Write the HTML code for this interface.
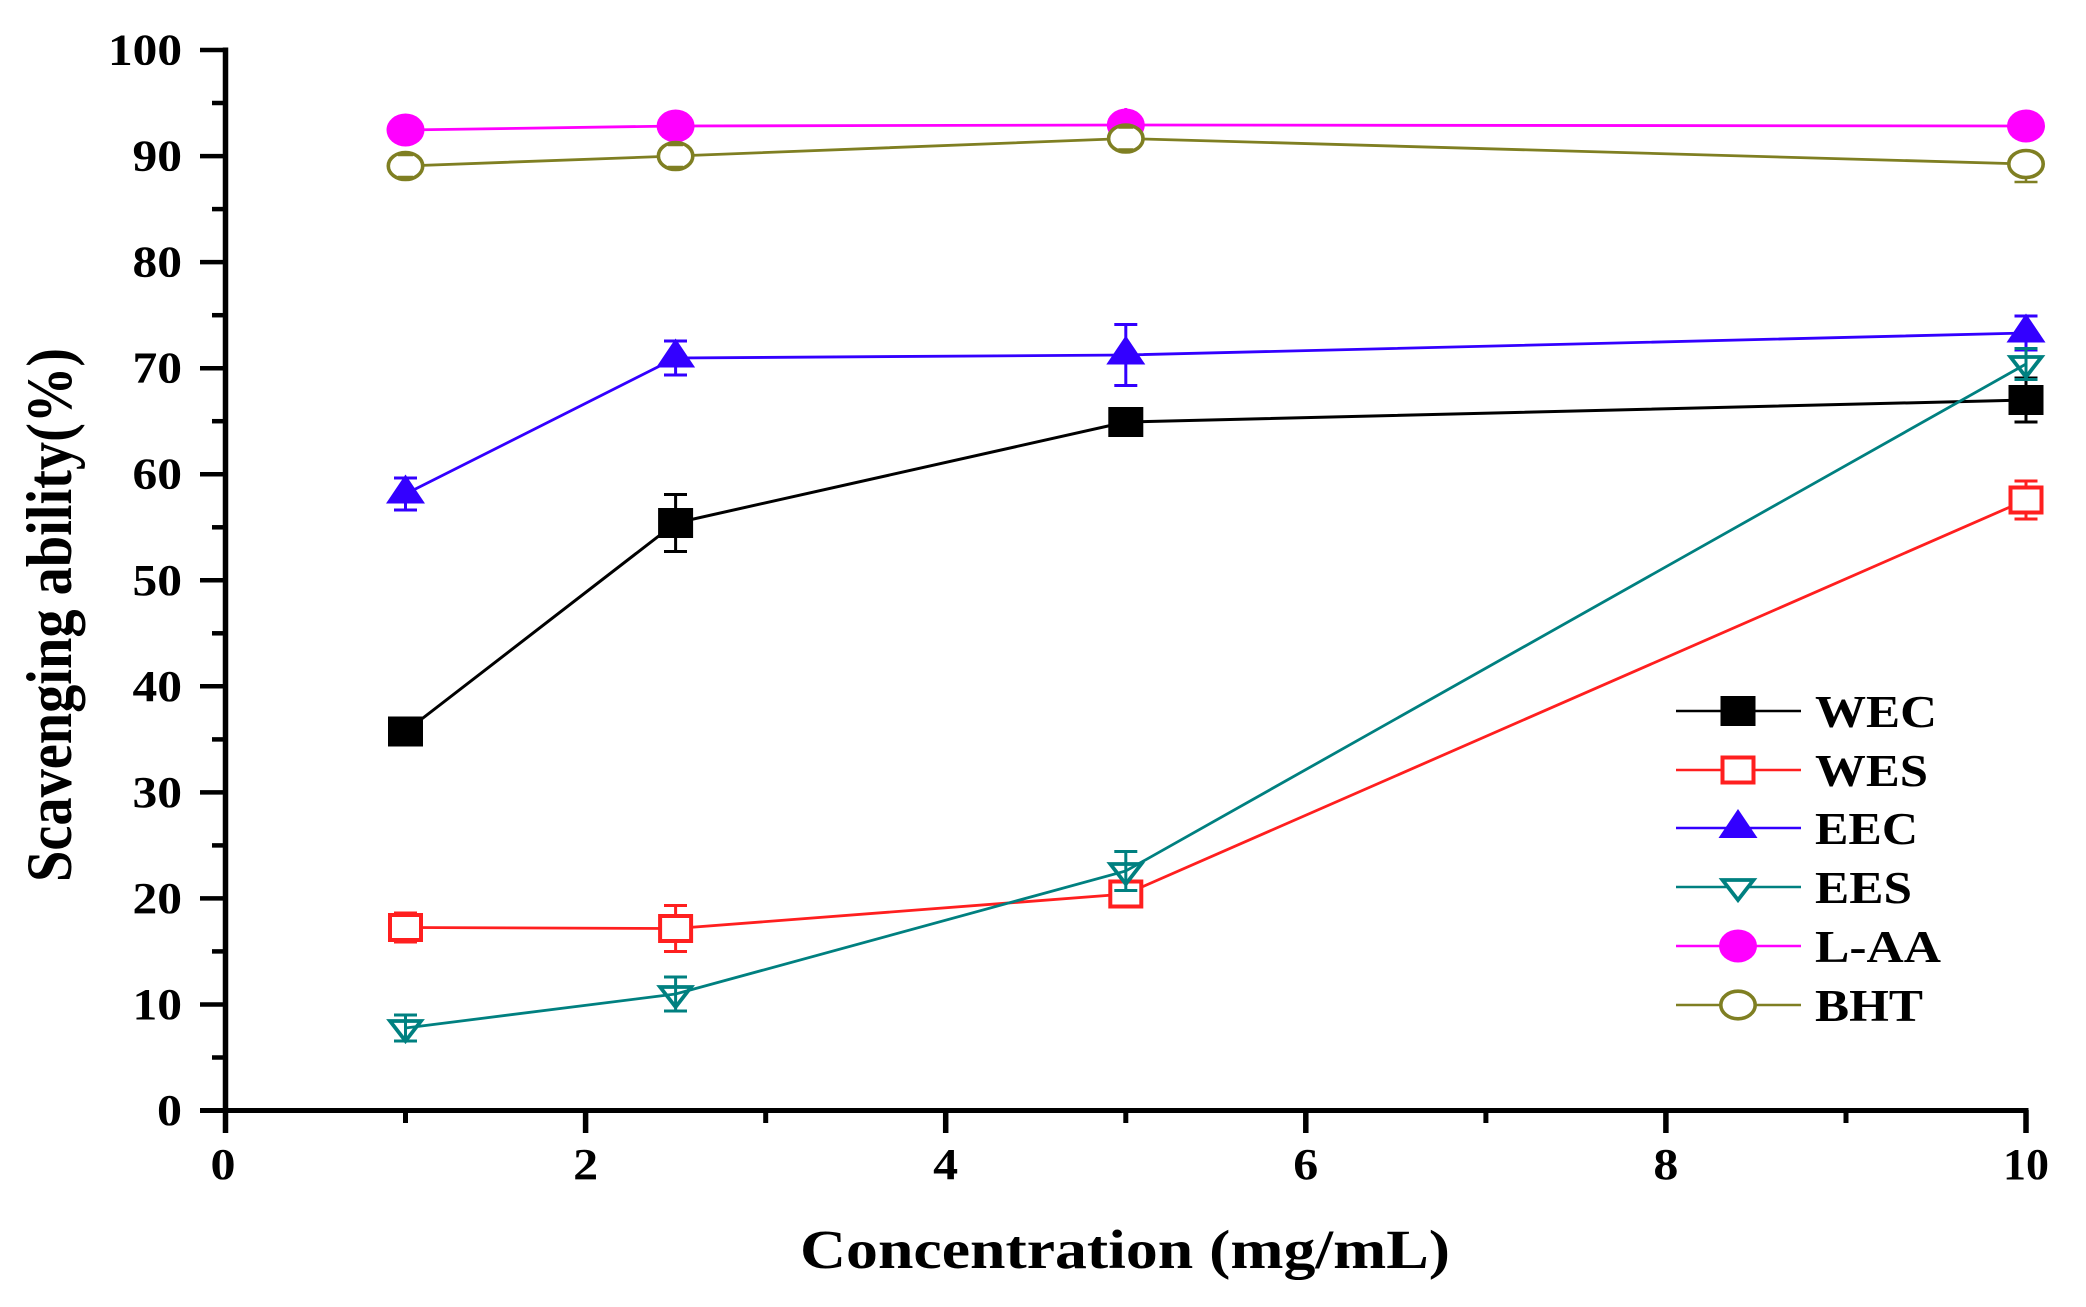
<!DOCTYPE html>
<html>
<head>
<meta charset="utf-8">
<style>
  html, body { margin: 0; padding: 0; background: #ffffff; }
  body { width: 2086px; height: 1307px; overflow: hidden; }
  svg { display: block; }
  text { font-family: "Liberation Serif", "Times New Roman", serif; font-weight: bold; fill: #000; }
</style>
</head>
<body>
<svg width="2086" height="1307" viewBox="0 0 2086 1307" xmlns="http://www.w3.org/2000/svg">
  <rect x="0" y="0" width="2086" height="1307" fill="#ffffff"/>

  <!-- Axes -->
  <line x1="225.5" y1="47.5" x2="225.5" y2="1133" stroke="#000" stroke-width="5.5"/>
  <line x1="200" y1="1110.5" x2="2028.5" y2="1110.5" stroke="#000" stroke-width="5"/>

  <!-- Y major ticks -->
  <g stroke="#000" stroke-width="4.5">
    <line x1="200" y1="50" x2="226" y2="50"/>
    <line x1="200" y1="156.1" x2="226" y2="156.1"/>
    <line x1="200" y1="262.1" x2="226" y2="262.1"/>
    <line x1="200" y1="368.2" x2="226" y2="368.2"/>
    <line x1="200" y1="474.2" x2="226" y2="474.2"/>
    <line x1="200" y1="580.3" x2="226" y2="580.3"/>
    <line x1="200" y1="686.3" x2="226" y2="686.3"/>
    <line x1="200" y1="792.4" x2="226" y2="792.4"/>
    <line x1="200" y1="898.4" x2="226" y2="898.4"/>
    <line x1="200" y1="1004.5" x2="226" y2="1004.5"/>
  </g>
  <!-- Y minor ticks -->
  <g stroke="#000" stroke-width="4.5">
    <line x1="212" y1="103.0" x2="226" y2="103.0"/>
    <line x1="212" y1="209.1" x2="226" y2="209.1"/>
    <line x1="212" y1="315.2" x2="226" y2="315.2"/>
    <line x1="212" y1="421.2" x2="226" y2="421.2"/>
    <line x1="212" y1="527.3" x2="226" y2="527.3"/>
    <line x1="212" y1="633.3" x2="226" y2="633.3"/>
    <line x1="212" y1="739.4" x2="226" y2="739.4"/>
    <line x1="212" y1="845.4" x2="226" y2="845.4"/>
    <line x1="212" y1="951.4" x2="226" y2="951.4"/>
    <line x1="212" y1="1057.5" x2="226" y2="1057.5"/>
  </g>

  <!-- X major ticks -->
  <g stroke="#000" stroke-width="5.5">
    <line x1="585.6" y1="1110" x2="585.6" y2="1133"/>
    <line x1="945.7" y1="1110" x2="945.7" y2="1133"/>
    <line x1="1305.8" y1="1110" x2="1305.8" y2="1133"/>
    <line x1="1665.9" y1="1110" x2="1665.9" y2="1133"/>
    <line x1="2026" y1="1110" x2="2026" y2="1133"/>
  </g>
  <!-- X minor ticks -->
  <g stroke="#000" stroke-width="5">
    <line x1="405.5" y1="1110" x2="405.5" y2="1123"/>
    <line x1="765.7" y1="1110" x2="765.7" y2="1123"/>
    <line x1="1125.8" y1="1110" x2="1125.8" y2="1123"/>
    <line x1="1485.9" y1="1110" x2="1485.9" y2="1123"/>
    <line x1="1846" y1="1110" x2="1846" y2="1123"/>
  </g>

  <!-- Y tick labels -->
  <g font-size="44">
    <text x="108" y="64.5" textLength="74" lengthAdjust="spacingAndGlyphs">100</text>
    <text x="132.5" y="170.6" textLength="49.5" lengthAdjust="spacingAndGlyphs">90</text>
    <text x="132.5" y="276.6" textLength="49.5" lengthAdjust="spacingAndGlyphs">80</text>
    <text x="132.5" y="382.7" textLength="49.5" lengthAdjust="spacingAndGlyphs">70</text>
    <text x="132.5" y="488.7" textLength="49.5" lengthAdjust="spacingAndGlyphs">60</text>
    <text x="132.5" y="594.8" textLength="49.5" lengthAdjust="spacingAndGlyphs">50</text>
    <text x="132.5" y="700.8" textLength="49.5" lengthAdjust="spacingAndGlyphs">40</text>
    <text x="132.5" y="806.9" textLength="49.5" lengthAdjust="spacingAndGlyphs">30</text>
    <text x="132.5" y="912.9" textLength="49.5" lengthAdjust="spacingAndGlyphs">20</text>
    <text x="132.5" y="1019" textLength="49.5" lengthAdjust="spacingAndGlyphs">10</text>
    <text x="157" y="1125" textLength="25" lengthAdjust="spacingAndGlyphs">0</text>
  </g>

  <!-- X tick labels -->
  <g font-size="44">
    <text x="210.5" y="1179" textLength="25" lengthAdjust="spacingAndGlyphs">0</text>
    <text x="573.1" y="1179" textLength="25" lengthAdjust="spacingAndGlyphs">2</text>
    <text x="933.2" y="1179" textLength="25" lengthAdjust="spacingAndGlyphs">4</text>
    <text x="1293.3" y="1179" textLength="25" lengthAdjust="spacingAndGlyphs">6</text>
    <text x="1653.4" y="1179" textLength="25" lengthAdjust="spacingAndGlyphs">8</text>
    <text x="2003" y="1179" textLength="46" lengthAdjust="spacingAndGlyphs">10</text>
  </g>

  <!-- Axis titles -->
  <text x="800" y="1268" font-size="55" textLength="650" lengthAdjust="spacingAndGlyphs">Concentration (mg/mL)</text>
  <text transform="translate(71,615) scale(1.15,1) rotate(-90)" x="-267" y="0" font-size="56" textLength="534" lengthAdjust="spacingAndGlyphs">Scavenging ability(%)</text>

  <!-- WEC (black filled squares) -->
  <g>
    <polyline points="405.5,731.5 675.6,523 1125.8,422 2026,400" fill="none" stroke="#000" stroke-width="3"/>
    <path d="M675.6,494.5 V551.5 M664,494.5 H687 M664,551.5 H687 M2026,378 V422 M2014.5,378 H2037.5 M2014.5,422 H2037.5" stroke="#000" stroke-width="3" fill="none"/>
    <rect x="388" y="716.5" width="35" height="30" fill="#000"/>
    <rect x="658.1" y="508" width="35" height="30" fill="#000"/>
    <rect x="1108.3" y="407" width="35" height="30" fill="#000"/>
    <rect x="2008.5" y="385" width="35" height="30" fill="#000"/>
  </g>

  <!-- WES (red open squares) -->
  <g>
    <polyline points="405.5,927.5 675.6,928.5 1125.8,894 2026,500" fill="none" stroke="#FF1F1F" stroke-width="2.8"/>
    <path d="M405.5,913 V942 M394,913 H417 M394,942 H417 M675.6,905.5 V951.5 M664,905.5 H687 M664,951.5 H687 M2026,481 V519 M2014.5,481 H2037.5 M2014.5,519 H2037.5" stroke="#FF1F1F" stroke-width="3" fill="none"/>
    <rect x="390" y="915" width="31" height="25" fill="#fff" stroke="#FF1F1F" stroke-width="4"/>
    <rect x="660.1" y="916" width="31" height="25" fill="#fff" stroke="#FF1F1F" stroke-width="4"/>
    <rect x="1110.3" y="881.5" width="31" height="25" fill="#fff" stroke="#FF1F1F" stroke-width="4"/>
    <rect x="2010.5" y="487.5" width="31" height="25" fill="#fff" stroke="#FF1F1F" stroke-width="4"/>
  </g>

  <!-- EEC (blue filled triangles up) -->
  <g>
    <polyline points="405.5,494 675.6,358 1125.8,355 2026,333" fill="none" stroke="#3300FF" stroke-width="2.8"/>
    <path d="M405.5,478 V510 M394,478 H417 M394,510 H417 M675.6,341 V375 M664,341 H687 M664,375 H687 M1125.8,324.5 V385.5 M1114.3,324.5 H1137.3 M1114.3,385.5 H1137.3 M2026,316 V350 M2014.5,316 H2037.5 M2014.5,350 H2037.5" stroke="#3300FF" stroke-width="3" fill="none"/>
    <polygon points="386,503.5 425,503.5 405.5,474.5" fill="#3300FF"/>
    <polygon points="656.1,367.5 695.1,367.5 675.6,338.5" fill="#3300FF"/>
    <polygon points="1106.3,364.5 1145.3,364.5 1125.8,335.5" fill="#3300FF"/>
    <polygon points="2006.5,342.5 2045.5,342.5 2026,313.5" fill="#3300FF"/>
  </g>

  <!-- EES (teal open triangles down) -->
  <g>
    <polyline points="405.5,1028 675.6,994 1125.8,871 2026,364" fill="none" stroke="#008080" stroke-width="2.8"/>
    <path d="M405.5,1015 V1041 M394,1015 H417 M394,1041 H417 M675.6,977 V1011 M664,977 H687 M664,1011 H687 M1125.8,851.5 V890.5 M1114.3,851.5 H1137.3 M1114.3,890.5 H1137.3 M2026,348.5 V379.5 M2014.5,348.5 H2037.5 M2014.5,379.5 H2037.5" stroke="#008080" stroke-width="3" fill="none"/>
    <polygon points="390,1021 421,1021 405.5,1041" fill="none" stroke="#008080" stroke-width="3.8"/>
    <polygon points="660.1,987 691.1,987 675.6,1007" fill="none" stroke="#008080" stroke-width="3.8"/>
    <polygon points="1110.3,864 1141.3,864 1125.8,884" fill="none" stroke="#008080" stroke-width="3.8"/>
    <polygon points="2010.5,357 2041.5,357 2026,377" fill="none" stroke="#008080" stroke-width="3.8"/>
  </g>

  <!-- L-AA (magenta filled circles) -->
  <g>
    <polyline points="405.5,130 675.6,126 1125.8,125 2026,126" fill="none" stroke="#FF00FF" stroke-width="2.8"/>
    <path d="M1125.8,108 V142" stroke="#FF00FF" stroke-width="3" fill="none"/>
    <ellipse cx="405.5" cy="130" rx="19" ry="16.5" fill="#FF00FF"/>
    <ellipse cx="675.6" cy="126" rx="19" ry="16.5" fill="#FF00FF"/>
    <ellipse cx="1125.8" cy="125" rx="19" ry="16.5" fill="#FF00FF"/>
    <ellipse cx="2026" cy="126" rx="19" ry="16.5" fill="#FF00FF"/>
  </g>

  <!-- BHT (olive open circles) -->
  <g>
    <polyline points="405.5,166 675.6,156 1125.8,138.5 2026,164" fill="none" stroke="#7F7F22" stroke-width="2.8"/>
    <ellipse cx="405.5" cy="166" rx="17.2" ry="13.5" fill="#fff" stroke="#7F7F22" stroke-width="3.6"/>
    <ellipse cx="675.6" cy="156" rx="17.2" ry="13.5" fill="#fff" stroke="#7F7F22" stroke-width="3.6"/>
    <ellipse cx="1125.8" cy="138.5" rx="17.2" ry="13.5" fill="#fff" stroke="#7F7F22" stroke-width="3.6"/>
    <ellipse cx="2026" cy="164" rx="17.2" ry="13.5" fill="#fff" stroke="#7F7F22" stroke-width="3.6"/>
    <path d="M398,155 H413 M398,177 H413 M668,145 H683 M668,167 H683 M1118.3,127.5 H1133.3 M1118.3,149.5 H1133.3 M2026,177 V182 M2014.5,182 H2037.5" stroke="#7F7F22" stroke-width="2.5" fill="none"/>
  </g>

  <!-- Legend -->
  <g>
    <line x1="1676" y1="711" x2="1801" y2="711" stroke="#000" stroke-width="2.6"/>
    <rect x="1720.5" y="696" width="35" height="30" fill="#000"/>
    <text x="1815" y="727" font-size="45" textLength="122" lengthAdjust="spacingAndGlyphs">WEC</text>

    <line x1="1676" y1="770" x2="1801" y2="770" stroke="#FF1F1F" stroke-width="2.6"/>
    <rect x="1722.5" y="757.5" width="31" height="25" fill="#fff" stroke="#FF1F1F" stroke-width="4"/>
    <text x="1815" y="786" font-size="45" textLength="113" lengthAdjust="spacingAndGlyphs">WES</text>

    <line x1="1676" y1="828" x2="1801" y2="828" stroke="#3300FF" stroke-width="2.6"/>
    <polygon points="1718.5,838 1757.5,838 1738,809" fill="#3300FF"/>
    <text x="1815" y="844" font-size="45" textLength="103" lengthAdjust="spacingAndGlyphs">EEC</text>

    <line x1="1676" y1="887" x2="1801" y2="887" stroke="#008080" stroke-width="2.6"/>
    <polygon points="1722.5,880 1753.5,880 1738,900" fill="#fff" stroke="#008080" stroke-width="3.8"/>
    <text x="1815" y="903" font-size="45" textLength="97" lengthAdjust="spacingAndGlyphs">EES</text>

    <line x1="1676" y1="946" x2="1801" y2="946" stroke="#FF00FF" stroke-width="2.6"/>
    <ellipse cx="1738" cy="946" rx="19" ry="16.5" fill="#FF00FF"/>
    <text x="1815" y="962" font-size="45" textLength="126" lengthAdjust="spacingAndGlyphs">L-AA</text>

    <line x1="1676" y1="1005" x2="1801" y2="1005" stroke="#7F7F22" stroke-width="2.6"/>
    <ellipse cx="1738" cy="1005" rx="17.2" ry="13.8" fill="#fff" stroke="#7F7F22" stroke-width="3.6"/>
    <text x="1815" y="1021" font-size="45" textLength="108" lengthAdjust="spacingAndGlyphs">BHT</text>
  </g>
</svg>
</body>
</html>
